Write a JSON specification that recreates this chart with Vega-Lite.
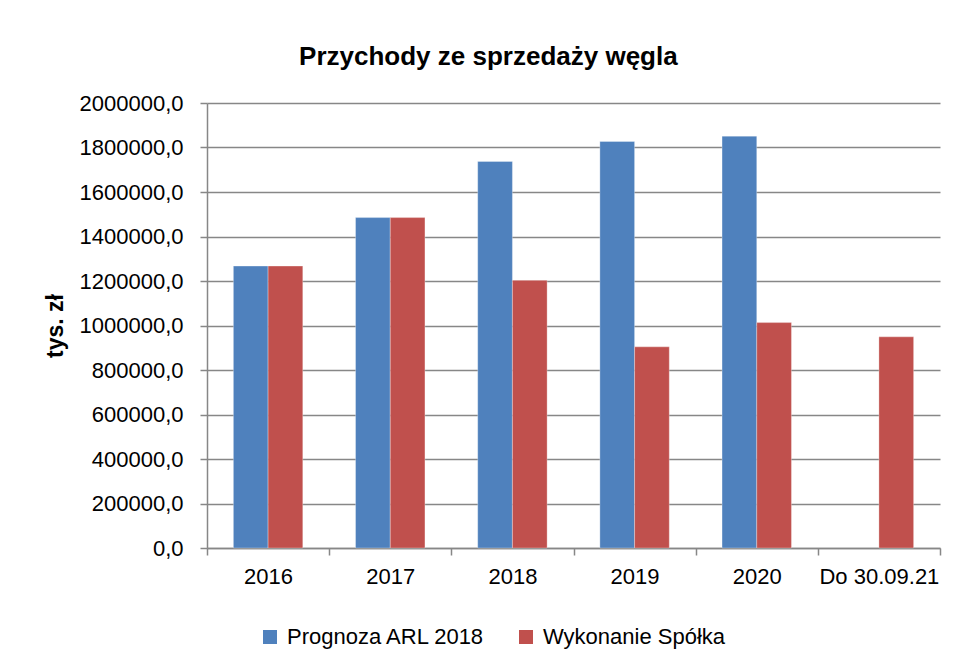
{
  "$schema": "https://vega.github.io/schema/vega-lite/v6.json",
  "width": 733,
  "height": 445,
  "autosize": {"type": "none"},
  "padding": {"left": 207, "top": 103, "right": 16, "bottom": 118},
  "background": "white",
  "title": {
    "text": "Przychody ze sprzedaży węgla",
    "font": "Liberation Sans",
    "fontSize": 26,
    "fontWeight": "bold",
    "color": "#000000",
    "anchor": "middle",
    "frame": "bounds",
    "offset": 22,
    "dx": -4
  },
  "config": {
    "font": "Liberation Sans",
    "view": {"stroke": null},
    "axis": {
      "labelFont": "Liberation Sans",
      "labelFontSize": 22,
      "labelColor": "#000000",
      "domainColor": "#878787",
      "domainWidth": 1.5,
      "tickColor": "#878787",
      "tickWidth": 1.5,
      "tickSize": 7,
      "gridColor": "#878787",
      "gridWidth": 1.5
    }
  },
  "data": {
    "values": [
      {"okres": "2016", "seria": "Prognoza ARL 2018", "wartosc": 1267000},
      {"okres": "2016", "seria": "Wykonanie Spółka", "wartosc": 1267000},
      {"okres": "2017", "seria": "Prognoza ARL 2018", "wartosc": 1485000},
      {"okres": "2017", "seria": "Wykonanie Spółka", "wartosc": 1485000},
      {"okres": "2018", "seria": "Prognoza ARL 2018", "wartosc": 1737000},
      {"okres": "2018", "seria": "Wykonanie Spółka", "wartosc": 1203000},
      {"okres": "2019", "seria": "Prognoza ARL 2018", "wartosc": 1827000},
      {"okres": "2019", "seria": "Wykonanie Spółka", "wartosc": 904000},
      {"okres": "2020", "seria": "Prognoza ARL 2018", "wartosc": 1851000},
      {"okres": "2020", "seria": "Wykonanie Spółka", "wartosc": 1013000},
      {"okres": "Do 30.09.21", "seria": "Wykonanie Spółka", "wartosc": 949000}
    ]
  },
  "mark": {"type": "bar", "stroke": "#ffffff", "strokeOpacity": 0.3, "strokeWidth": 1},
  "encoding": {
    "x": {
      "field": "okres",
      "type": "nominal",
      "sort": null,
      "scale": {"paddingInner": 0, "paddingOuter": 0},
      "axis": {
        "title": null,
        "labelAngle": 0,
        "tickBand": "extent",
        "labelPadding": 11,
        "grid": false
      }
    },
    "xOffset": {
      "field": "seria",
      "type": "nominal",
      "sort": ["Prognoza ARL 2018", "Wykonanie Spółka"],
      "scale": {"paddingInner": 0, "paddingOuter": 0.76}
    },
    "y": {
      "field": "wartosc",
      "type": "quantitative",
      "scale": {"domain": [0, 2000000], "nice": false},
      "axis": {
        "title": "tys. zł",
        "titleFont": "Liberation Sans",
        "titleFontSize": 23,
        "titleFontWeight": "bold",
        "titleColor": "#000000",
        "titlePadding": 12,
        "values": [0, 200000, 400000, 600000, 800000, 1000000, 1200000, 1400000, 1600000, 1800000, 2000000],
        "labelExpr": "replace(format(datum.value, '.1f'), '.', ',')",
        "labelPadding": 17,
        "grid": true
      }
    },
    "color": {
      "field": "seria",
      "type": "nominal",
      "sort": ["Prognoza ARL 2018", "Wykonanie Spółka"],
      "scale": {"domain": ["Prognoza ARL 2018", "Wykonanie Spółka"], "range": ["#4F81BD", "#C0504D"]},
      "legend": {
        "title": null,
        "orient": "none",
        "direction": "horizontal",
        "legendX": 52,
        "legendY": 523,
        "padding": 0,
        "symbolType": "square",
        "symbolSize": 196,
        "symbolStrokeWidth": 0,
        "symbolOpacity": 1,
        "labelFont": "Liberation Sans",
        "labelFontSize": 22,
        "labelColor": "#000000",
        "labelOffset": 6,
        "columnPadding": 29,
        "labelLimit": 400
      }
    }
  }
}
